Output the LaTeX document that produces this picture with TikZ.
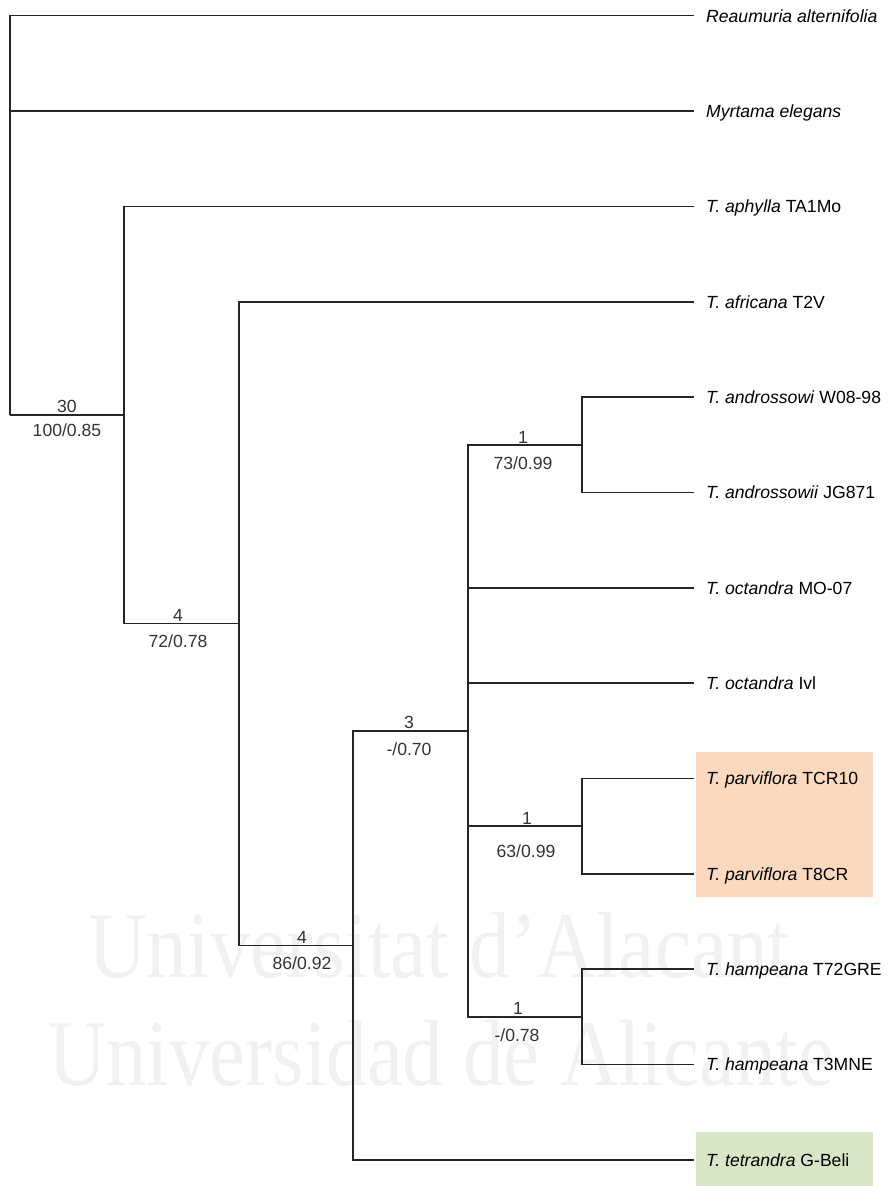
\documentclass[tikz,border=0pt]{standalone}
\usepackage{fontspec}
\setmainfont{Liberation Sans}
\newfontfamily\wmfont{Liberation Serif}
\definecolor{parvbox}{HTML}{FBD9BE}
\definecolor{tetrbox}{HTML}{D7E6C4}
\definecolor{wmgray}{HTML}{F1F1F1}
\tikzset{
  branch/.style={line width=1.5pt, draw=black!85},
  leaf/.style={anchor=west, inner xsep=12pt, inner ysep=0pt, text height=12.6pt, text depth=0pt, font=\fontsize{17.6}{20}\selectfont},
  supp/.style={inner sep=0pt, text height=12.6pt, text depth=0pt, text=black!80, font=\fontsize{17.6}{20}\selectfont},
  wmark/.style={anchor=base west, inner sep=0pt, text=wmgray, font=\wmfont\fontsize{94}{94}\selectfont}
}

\begin{document}
\begin{tikzpicture}[x=1pt, y=-1pt]
    \useasboundingbox (0,0) rectangle (890,1186);

    % Watermark behind the tree
    \node[wmark] (wm1) at (88,977) {\scalebox{0.865}[1]{Universitat d’Alacant}};
    \node[wmark] (wm2) at (48,1085) {\scalebox{0.86}[1]{Universidad de Alicante}};

    % Coloured boxes round the highlighted taxa
    \fill[parvbox] (696,752) rectangle (873,897);
    \fill[tetrbox] (696,1132) rectangle (873,1186);

    % Leaves
    \node[leaf] (reau) at (694,15.7) {\textit{Reaumuria alternifolia}};
    \node[leaf] (myrt) at (694,111.1) {\textit{Myrtama elegans}};
    \node[leaf] (aphy) at (694,206.4) {\textit{T. aphylla} TA1Mo};
    \node[leaf] (afri) at (694,301.8) {\textit{T. africana} T2V};
    \node[leaf] (andA) at (694,397.1) {\textit{T. androssowi} W08-98};
    \node[leaf] (andB) at (694,492.5) {\textit{T. androssowii} JG871};
    \node[leaf] (octA) at (694,587.8) {\textit{T. octandra} MO-07};
    \node[leaf] (octB) at (694,683.2) {\textit{T. octandra} Ivl};
    \node[leaf] (parA) at (694,778.5) {\textit{T. parviflora} TCR10};
    \node[leaf] (parB) at (694,873.9) {\textit{T. parviflora} T8CR};
    \node[leaf] (hamA) at (694,969.2) {\textit{T. hampeana} T72GRE};
    \node[leaf] (hamB) at (694,1064.6) {\textit{T. hampeana} T3MNE};
    \node[leaf] (tetr) at (694,1159.9) {\textit{T. tetrandra} G-Beli};

    % Internal nodes
    \coordinate (root) at (10,415);
    \coordinate (nA) at (124,415);
    \coordinate (nB) at (239,623.6);
    \coordinate (nC) at (353,945.4);
    \coordinate (nD) at (468,730.9);
    \coordinate (nE) at (582,444.8);
    \coordinate (nF) at (582,826.2);
    \coordinate (nG) at (582,1016.9);

    % Branches
    \draw[branch] (root) |- (reau.west);
    \draw[branch] (root) |- (myrt.west);
    \draw[branch] (root) |- (nA);
    \draw[branch] (nA) |- (aphy.west);
    \draw[branch] (nA) |- (nB);
    \draw[branch] (nB) |- (afri.west);
    \draw[branch] (nB) |- (nC);
    \draw[branch] (nC) |- (nD);
    \draw[branch] (nC) |- (tetr.west);
    \draw[branch] (nD) |- (nE);
    \draw[branch] (nD) |- (octA.west);
    \draw[branch] (nD) |- (octB.west);
    \draw[branch] (nD) |- (nF);
    \draw[branch] (nD) |- (nG);
    \draw[branch] (nE) |- (andA.west);
    \draw[branch] (nE) |- (andB.west);
    \draw[branch] (nF) |- (parA.west);
    \draw[branch] (nF) |- (parB.west);
    \draw[branch] (nG) |- (hamA.west);
    \draw[branch] (nG) |- (hamB.west);

    % Support values on the branches
    \node[supp] (sA1) at (67,406) {30};
    \node[supp] (sA2) at (67,430) {100/0.85};
    \node[supp] (sB1) at (178,615) {4};
    \node[supp] (sB2) at (178,641) {72/0.78};
    \node[supp] (sC1) at (302,937) {4};
    \node[supp] (sC2) at (302,963) {86/0.92};
    \node[supp] (sD1) at (409,722) {3};
    \node[supp] (sD2) at (409,749) {-/0.70};
    \node[supp] (sE1) at (523,437) {1};
    \node[supp] (sE2) at (523,463) {73/0.99};
    \node[supp] (sF1) at (527,818) {1};
    \node[supp] (sF2) at (526,851) {63/0.99};
    \node[supp] (sG1) at (518,1008) {1};
    \node[supp] (sG2) at (517,1035) {-/0.78};
\end{tikzpicture}
\end{document}
